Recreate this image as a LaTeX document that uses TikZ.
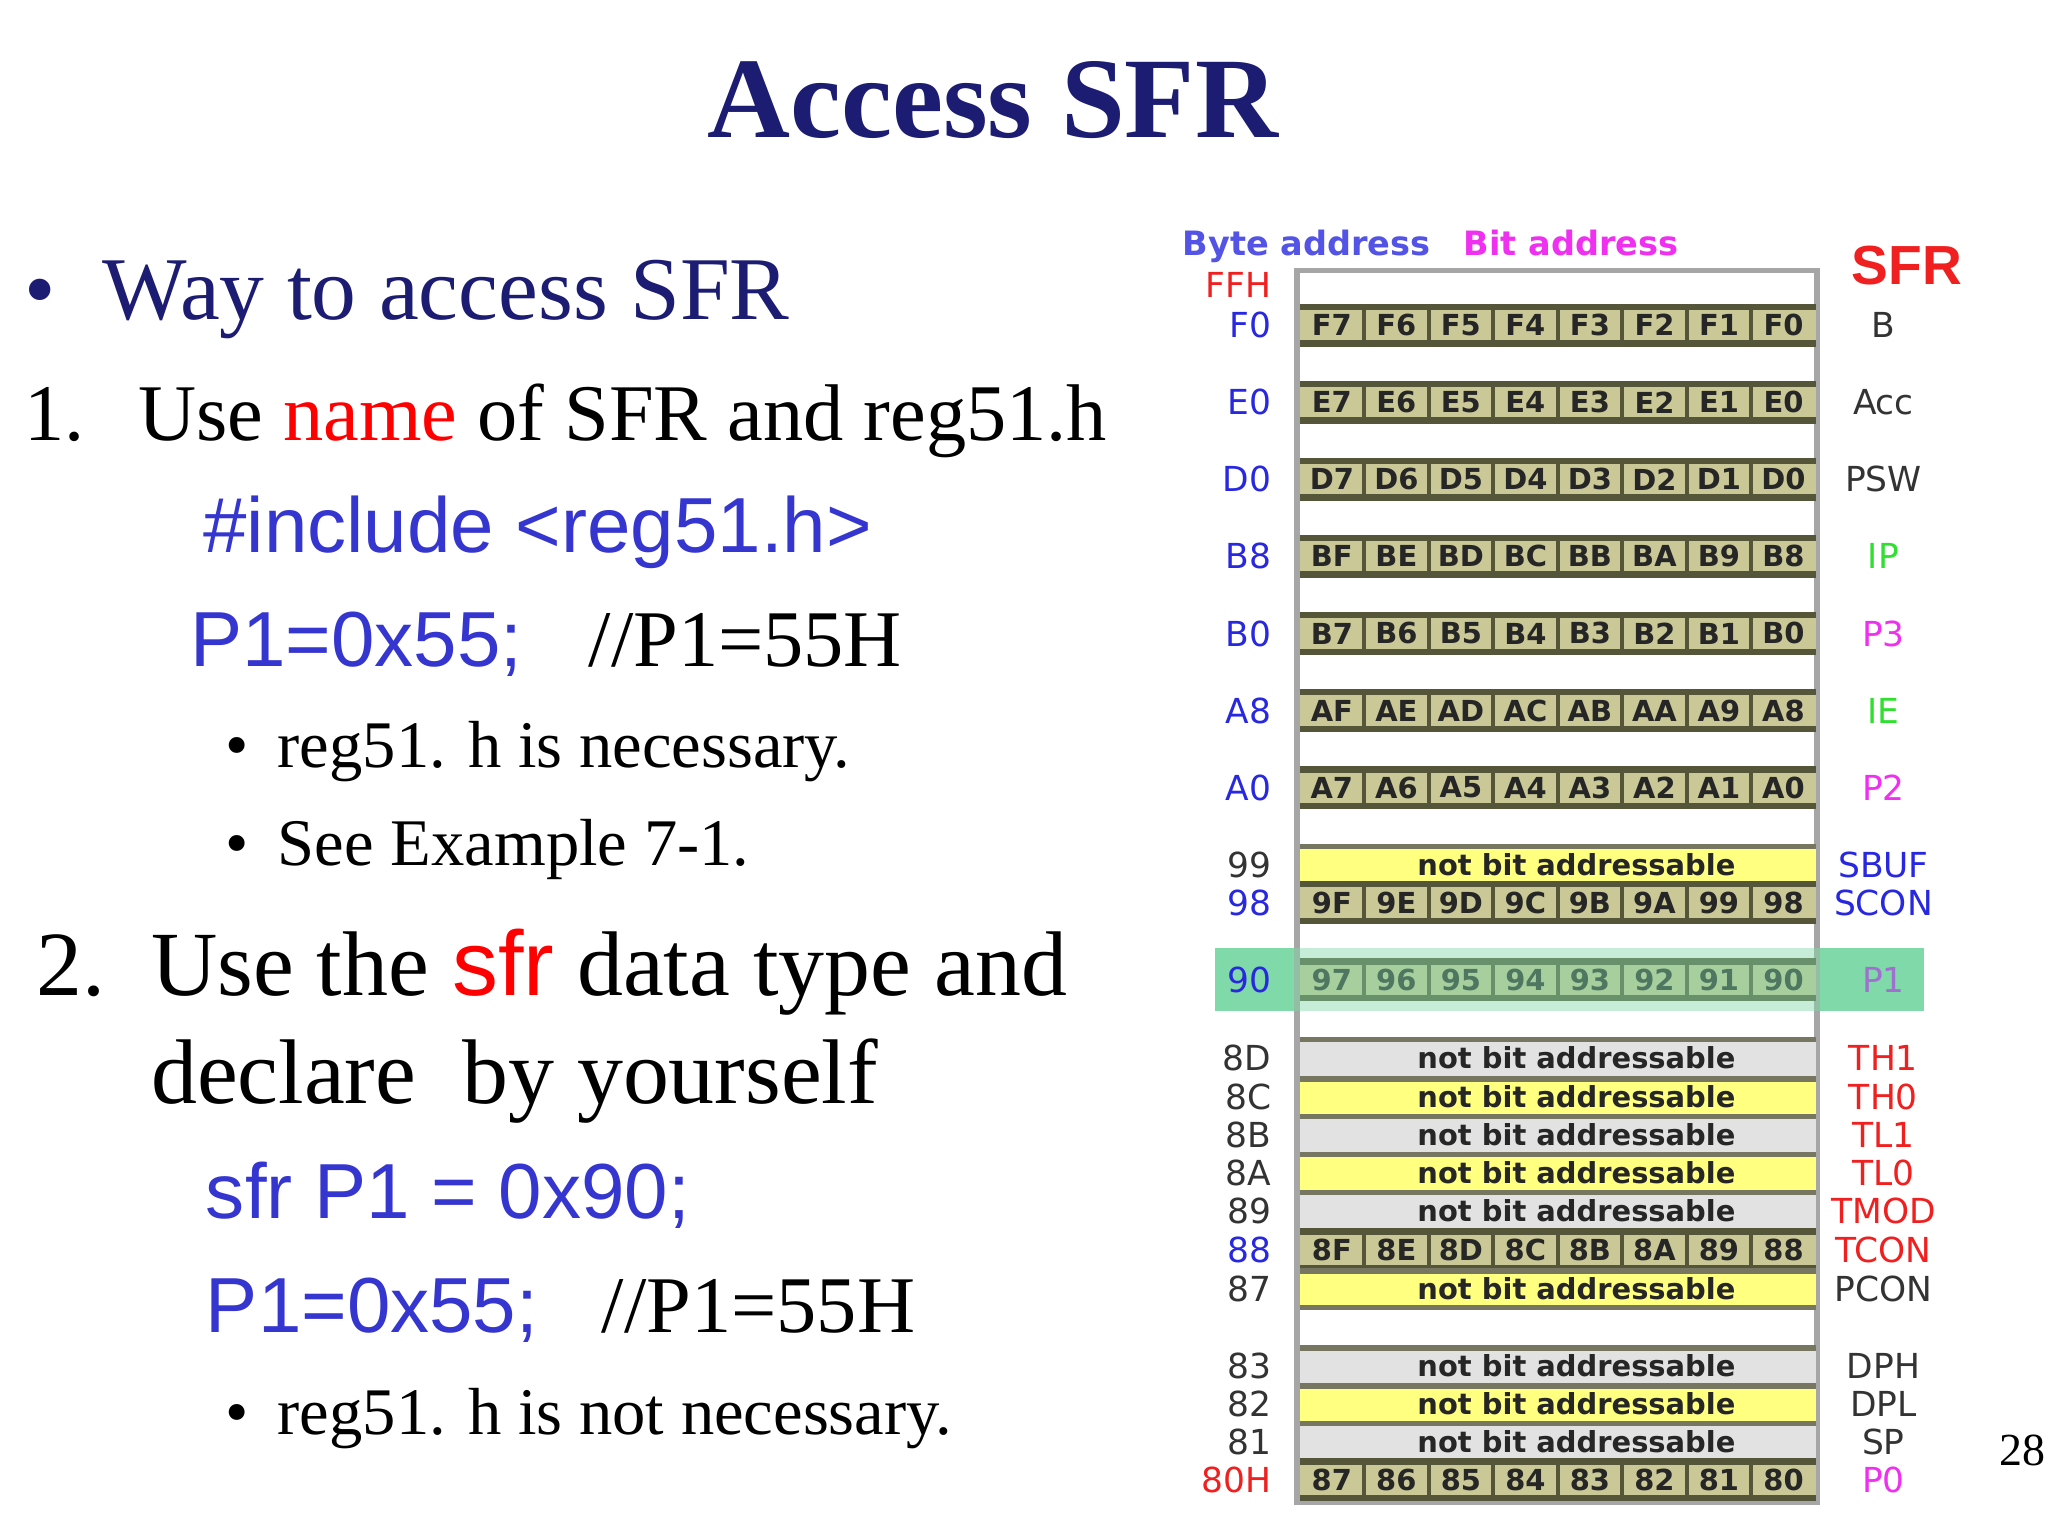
\documentclass[tikz,border=0pt]{standalone}
\usepackage{fontspec}
\setmainfont{Liberation Serif}
\newfontfamily\arial{Liberation Sans}
\newfontfamily\tabf{DejaVu Sans}
\definecolor{navy}{HTML}{1C1C72}
\definecolor{codeblue}{HTML}{3535D0}
\definecolor{khaki}{HTML}{C9C896}
\definecolor{kborder}{HTML}{55553A}
\definecolor{greyrow}{HTML}{E2E2E2}
\definecolor{yelrow}{HTML}{FFFF80}
\definecolor{lblue}{HTML}{2828E0}
\definecolor{lred}{HTML}{F02020}
\definecolor{lmag}{HTML}{F030F0}
\definecolor{lgreen}{HTML}{30E030}
\definecolor{lpur}{HTML}{A070D0}
\definecolor{hl}{HTML}{7FD9A8}
\newcommand{\bitrow}[3]{% y, list, name
  \fill[khaki] (995,#1-14) rectangle (1390,#1+14);
  \draw[kborder,line width=1.4pt] (995,#1-14) -- (1390,#1-14) (995,#1+14) -- (1390,#1+14);
  \foreach \k in {1,...,7}{\draw[kborder,line width=0.9pt] (995+\k*49.4,#1-14) -- (995+\k*49.4,#1+14);}
  \foreach \c [count=\i] in {#2}{\node[cell] (#3-\i) at (995+\i*49.4-24.7,#1) {\c};}
}
\newcommand{\nbrow}[3]{% y, colour, name
  \fill[#2] (995,#1-14) rectangle (1390,#1+14);
  \draw[kborder!80,line width=1.2pt] (995,#1-14) -- (1390,#1-14);
  \node[cell] (#3) at (1207,#1) {not bit addressable};
}
\begin{document}
\begin{tikzpicture}[x=0.01cm,y=-0.01cm,
  txt/.style={anchor=base west,inner sep=0pt},
  cell/.style={font=\tabf\bfseries\fontsize{6.3}{7}\selectfont,text=black!85},
  lab/.style={anchor=east,inner sep=0pt,font=\tabf\fontsize{7.5}{8}\selectfont},
  rlab/.style={anchor=center,inner sep=0pt,font=\tabf\fontsize{7.5}{8}\selectfont}]
\useasboundingbox (0,0) rectangle (1568,1176);
\fill[white] (0,0) rectangle (1568,1176);
% title
\node[anchor=base,inner sep=0pt,font=\bfseries\fontsize{25}{30}\selectfont,text=navy] (title) at (760,105) {Access SFR};
% left text
\node[txt,font=\fontsize{19.5}{22}\selectfont,text=navy] (b0) at (18,245) {•};
\node[txt,font=\fontsize{19.5}{22}\selectfont,text=navy] (t0) at (78,245) {Way to access SFR};
\node[txt,font=\fontsize{17.5}{22}\selectfont] (n1) at (18,337) {1.};
\node[txt,font=\fontsize{17.5}{22}\selectfont] (t1) at (105,337) {Use \textcolor{red}{name} of SFR and reg51.h};
\node[txt,font=\arial\fontsize{17}{19}\selectfont,text=codeblue] (t2) at (155,423) {\#include <reg51.h>};
\node[txt,font=\arial\fontsize{17}{19}\selectfont,text=codeblue] (t3) at (145,510) {P1=0x55;};
\node[txt,font=\fontsize{17.5}{21}\selectfont] (t3b) at (450,510) {//P1=55H};
\node[txt,font=\fontsize{14.5}{17}\selectfont] (t4b) at (172,588) {•};
\node[txt,font=\fontsize{14.5}{17}\selectfont] (t4) at (212,588) {reg51. h is necessary.};
\node[txt,font=\fontsize{14.5}{17}\selectfont] (t5b) at (172,663) {•};
\node[txt,font=\fontsize{14.5}{17}\selectfont] (t5) at (212,663) {See Example 7-1.};
\node[txt,font=\fontsize{20}{24}\selectfont] (n2) at (27,762) {2.};
\node[txt,font=\fontsize{20}{24}\selectfont] (t6) at (115,762) {Use the \textcolor{red}{\arial sfr} data type and};
\node[txt,font=\fontsize{20}{24}\selectfont] (t7) at (115,845) {declare\ \ by yourself};
\node[txt,font=\arial\fontsize{17}{19}\selectfont,text=codeblue] (t8) at (157,933) {sfr P1 = 0x90;};
\node[txt,font=\arial\fontsize{17}{19}\selectfont,text=codeblue] (t9) at (157,1020) {P1=0x55;};
\node[txt,font=\fontsize{17.5}{21}\selectfont] (t9b) at (460,1020) {//P1=55H};
\node[txt,font=\fontsize{14.5}{17}\selectfont] (t10b) at (172,1098) {•};
\node[txt,font=\fontsize{14.5}{17}\selectfont] (t10) at (212,1098) {reg51. h is not necessary.};
\node[txt,font=\fontsize{10}{12}\selectfont] (pg) at (1530,1122) {28};
% table headers
\node[anchor=base west,inner sep=0pt,font=\tabf\bfseries\fontsize{7.3}{8}\selectfont,text=lblue!80] (hb) at (905,196) {Byte address};
\node[anchor=base west,inner sep=0pt,font=\tabf\bfseries\fontsize{7.3}{8}\selectfont,text=lmag] (hbit) at (1120,196) {Bit address};
\node[anchor=center,inner sep=0pt,font=\arial\bfseries\fontsize{12}{15}\selectfont,text=lred] (hsfr) at (1460,203) {SFR};
% highlight
\fill[hl] (930,726) rectangle (1473,774);
% frame
\fill[white] (993,207) rectangle (1391,1150);
\draw[gray!70,line width=1.2pt] (993,207) rectangle (1391,1150);
\bitrow{249}{F7,F6,F5,F4,F3,F2,F1,F0}{rF0}
\bitrow{308}{E7,E6,E5,E4,E3,E2,E1,E0}{rE0}
\bitrow{367}{D7,D6,D5,D4,D3,D2,D1,D0}{rD0}
\bitrow{426}{BF,BE,BD,BC,BB,BA,B9,B8}{rB8}
\bitrow{485}{B7,B6,B5,B4,B3,B2,B1,B0}{rB0}
\bitrow{544}{AF,AE,AD,AC,AB,AA,A9,A8}{rA8}
\bitrow{603}{A7,A6,A5,A4,A3,A2,A1,A0}{rA0}
\nbrow{662}{yelrow}{r99}
\bitrow{691}{9F,9E,9D,9C,9B,9A,99,98}{r98}
\bitrow{750}{97,96,95,94,93,92,91,90}{r90}
\nbrow{810}{greyrow}{r8D}
\nbrow{840}{yelrow}{r8C}
\nbrow{869}{greyrow}{r8B}
\nbrow{898}{yelrow}{r8A}
\nbrow{927}{greyrow}{r89}
\bitrow{957}{8F,8E,8D,8C,8B,8A,89,88}{r88}
\nbrow{987}{yelrow}{r87}
\draw[kborder!80,line width=1.2pt] (995,1001) -- (1390,1001);
\nbrow{1046}{greyrow}{r83}
\nbrow{1075}{yelrow}{r82}
\nbrow{1104}{greyrow}{r81}
\bitrow{1133}{87,86,85,84,83,82,81,80}{r80}
\fill[hl,opacity=0.45] (930,726) rectangle (1473,774);
% left labels
\foreach \y/\t/\c [count=\i] in {218/FFH/lred,249/F0/lblue,308/E0/lblue,367/D0/lblue,426/B8/lblue,485/B0/lblue,544/A8/lblue,603/A0/lblue,662/99/black!80,691/98/lblue,750/90/lblue,810/8D/black!80,840/8C/black!80,869/8B/black!80,898/8A/black!80,927/89/black!80,957/88/lblue,987/87/black!80,1046/83/black!80,1075/82/black!80,1104/81/black!80,1133/80H/lred}{
  \node[lab,text=\c] (L\i) at (974,\y) {\t};
}
% right labels
\foreach \y/\t/\c [count=\i] in {249/B/black!80,308/Acc/black!80,367/PSW/black!80,426/IP/lgreen,485/P3/lmag,544/IE/lgreen,603/P2/lmag,662/SBUF/lblue,691/SCON/lblue,750/P1/lpur,810/TH1/lred,840/TH0/lred,869/TL1/lred,898/TL0/lred,927/TMOD/lred,957/TCON/lred,987/PCON/black!80,1046/DPH/black!80,1075/DPL/black!80,1104/SP/black!80,1133/P0/lmag}{
  \node[rlab,text=\c] (R\i) at (1442,\y) {\t};
}
\end{tikzpicture}
\end{document}
